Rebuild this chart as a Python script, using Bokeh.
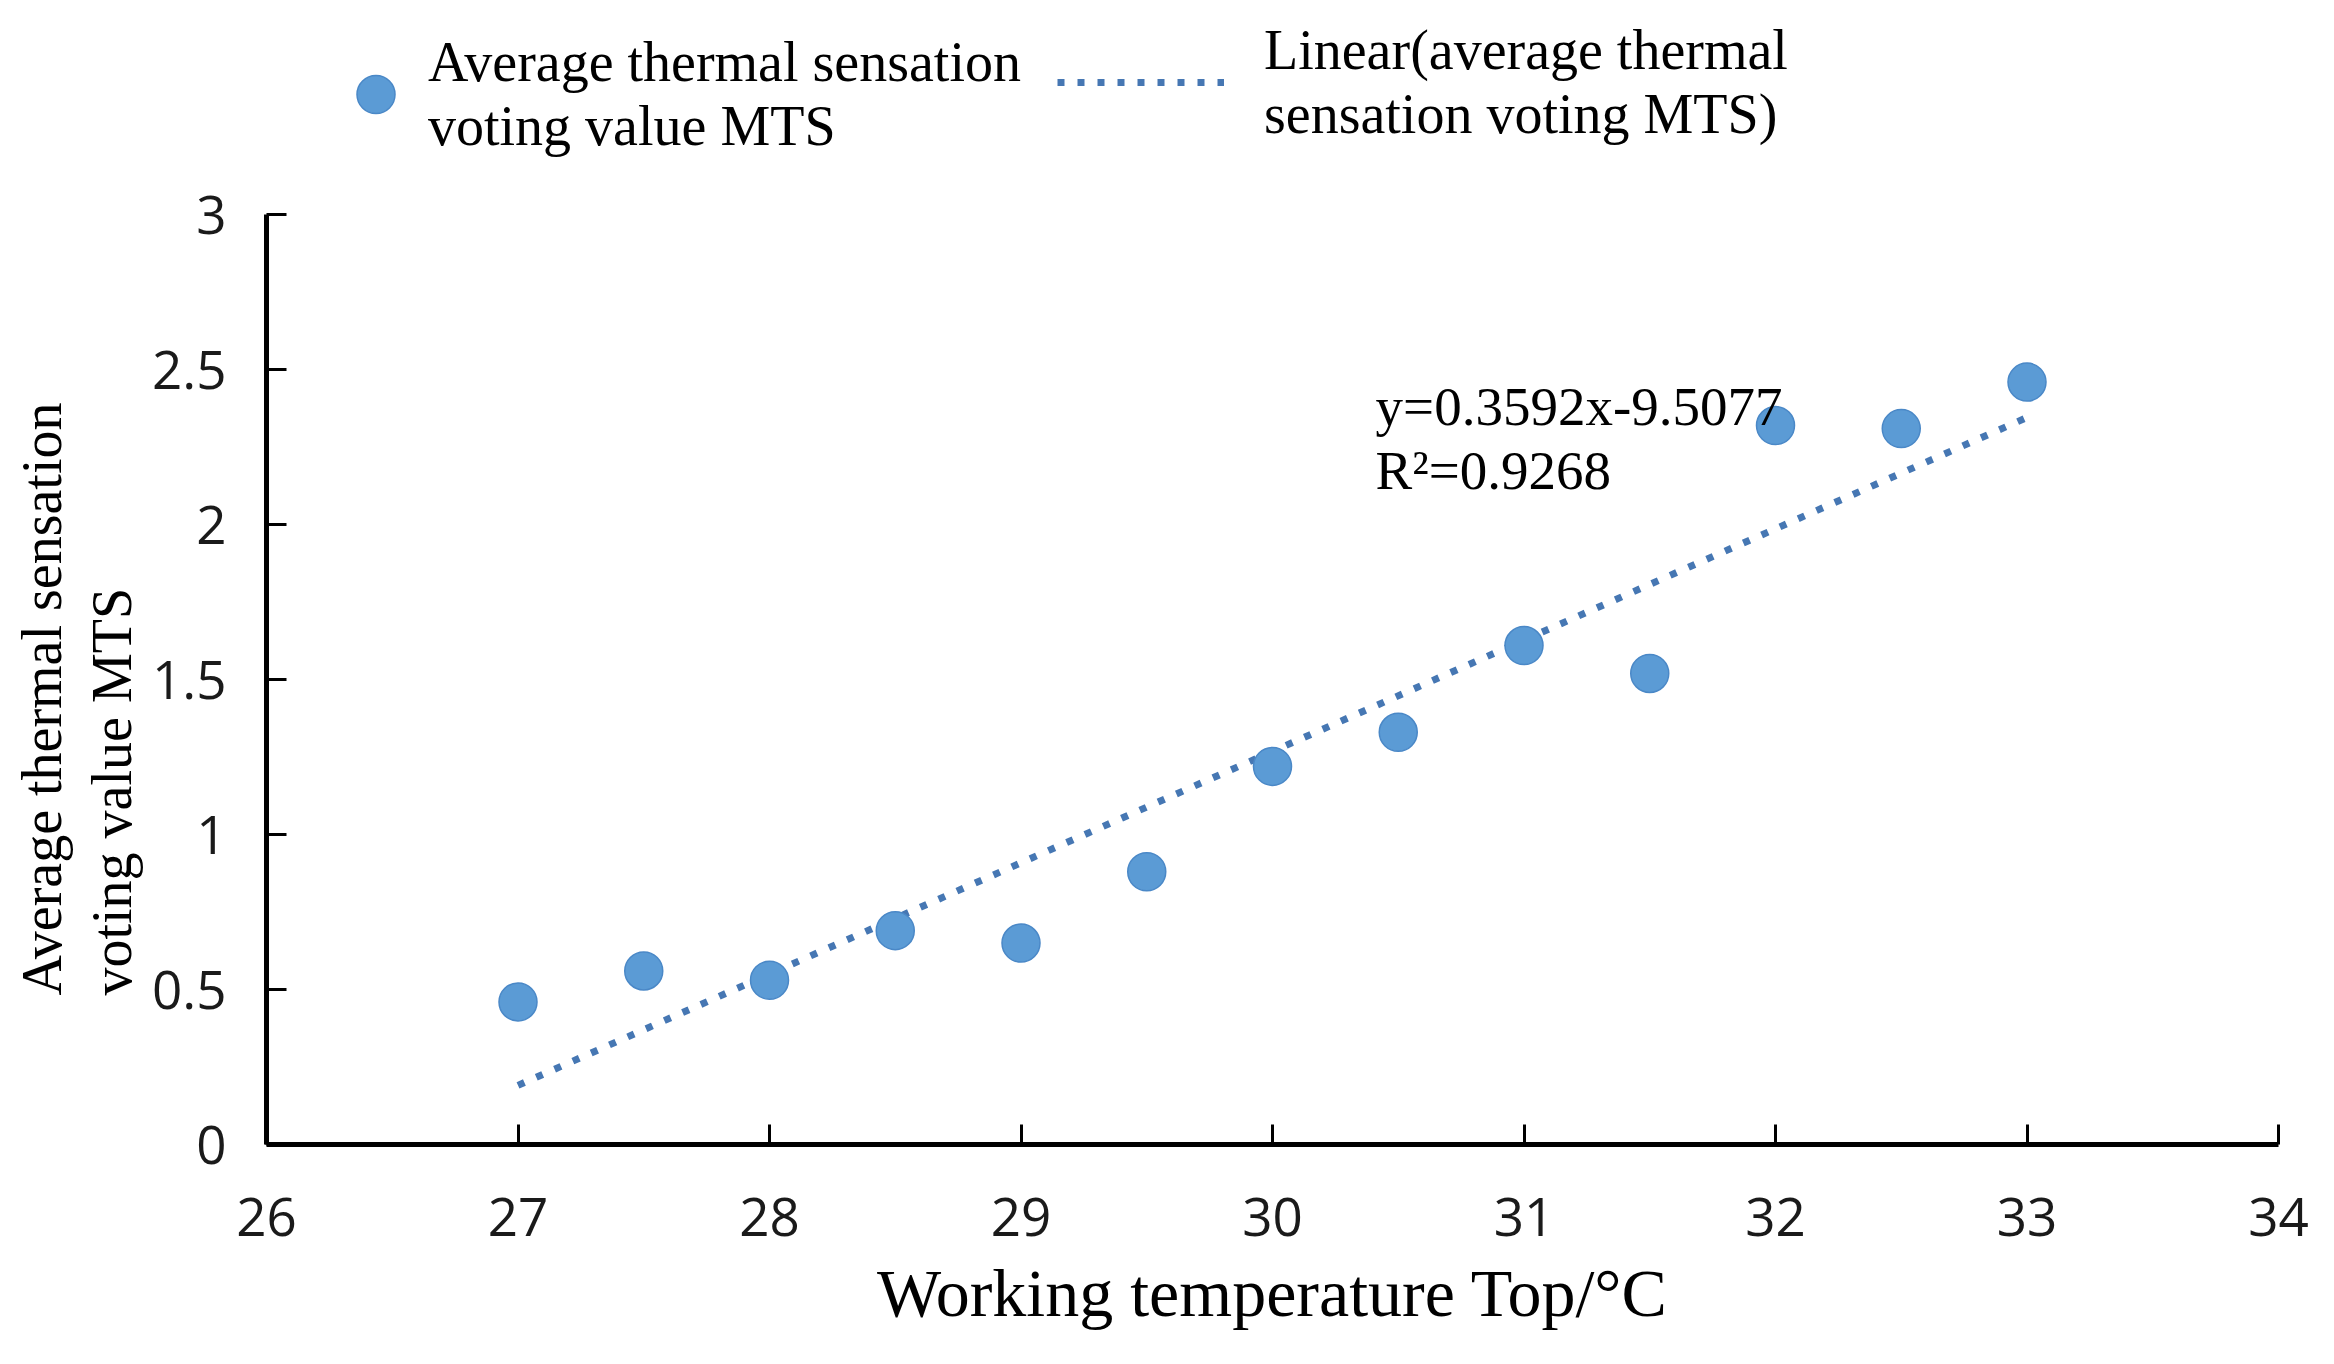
from bokeh.plotting import figure
from bokeh.models import (FixedTicker, Legend, LegendItem, Label, Title, Range1d)
from bokeh.embed import file_html
from bokeh.resources import INLINE

# ---- data ----
TEMP = [27, 27.5, 28, 28.5, 29, 29.5, 30, 30.5, 31, 31.5, 32, 32.5, 33]
MTS = [0.46, 0.56, 0.53, 0.69, 0.65, 0.88, 1.22, 1.33, 1.61, 1.52, 2.32, 2.31, 2.46]
SLOPE = 0.3592
INTERCEPT = -9.5077
R2 = 0.9268
X_TICKS = [26, 27, 28, 29, 30, 31, 32, 33, 34]
Y_TICKS = [0, 0.5, 1, 1.5, 2, 2.5, 3]
Y_TICK_LABELS = ["0", "0.5", "1", "1.5", "2", "2.5", "3"]

SERIF = "Liberation Serif"
SANS = "Open Sans"
BLUE = "#5B9BD5"

p = figure(width=2318, height=1348, output_backend="svg", toolbar_location=None,
           x_range=Range1d(26, 34), y_range=Range1d(0, 3.63),
           min_border_left=266, min_border_right=40, min_border_top=19, min_border_bottom=204)
p.outline_line_color = None
p.grid.visible = False

# trend line (from the fitted equation)
tx = [min(TEMP), max(TEMP)]
ty = [SLOPE * v + INTERCEPT for v in tx]
trend = p.line(tx, ty, line_color="#4677B3", line_width=7, line_dash="7 13")
pts = p.scatter(TEMP, MTS, size=38, fill_color=BLUE, line_color="#4A88C7", line_width=1.5)

for ax, ticks in ((p.xaxis[0], X_TICKS), (p.yaxis[0], Y_TICKS)):
    ax.ticker = FixedTicker(ticks=ticks)
    ax.axis_line_width = 5
    ax.axis_line_color = "black"
    ax.major_tick_line_width = 3
    ax.major_tick_line_color = "black"
    ax.major_tick_in = 20
    ax.major_tick_out = 0
    ax.minor_tick_line_color = None
    ax.major_label_text_font = SANS
    ax.major_label_text_font_size = "53px"
    ax.major_label_text_color = "#1a1a1a"

p.xaxis.bounds = (X_TICKS[0], X_TICKS[-1])
p.yaxis.bounds = (Y_TICKS[0], Y_TICKS[-1])
p.yaxis.major_label_overrides = {t: l for t, l in zip(Y_TICKS, Y_TICK_LABELS)}
p.xaxis.major_label_standoff = 53
p.yaxis.major_label_standoff = 40

p.xaxis.axis_label = "Working temperature Top/°C"
p.xaxis.axis_label_text_font = SERIF
p.xaxis.axis_label_text_font_size = "68px"
p.xaxis.axis_label_text_font_style = "normal"
p.xaxis.axis_label_text_color = "black"
p.xaxis.axis_label_standoff = 16

# y-axis title, two lines, starting at the same point
for txt, so in [("voting value MTS", 12), ("Average thermal sensation", 0)]:
    p.add_layout(Title(text=txt, align="left", offset=149, standoff=so,
                       text_font=SERIF, text_font_size="56px",
                       text_font_style="normal", text_color="black"), "left")

# equation annotation
eq_font = dict(text_font=SERIF, text_font_size="55px", text_color="black",
               text_baseline="middle", text_align="left")
p.add_layout(Label(x=30.41, y=2.381, text=f"y={SLOPE}x{INTERCEPT}", **eq_font))
p.add_layout(Label(x=30.41, y=2.174, text=f"R²={R2}", **eq_font))

leg_style = dict(border_line_color=None, background_fill_alpha=0, padding=0, margin=0,
                 spacing=0, label_text_font=SERIF, label_text_font_size="56px",
                 label_text_color="black", label_text_line_height=1.27,
                 glyph_height=124)
leg1 = Legend(items=[LegendItem(label="Average thermal sensation\nvoting value MTS", renderers=[pts])],
              location=(62, 986), glyph_width=95, label_standoff=5, **leg_style)
leg2 = Legend(items=[LegendItem(label="Linear(average thermal\nsensation voting MTS)", renderers=[trend])],
              location=(791, 998), glyph_width=167, label_standoff=40, **leg_style)
p.add_layout(leg1)
p.add_layout(leg2)

open("out.html", "w").write(file_html(p, INLINE))
